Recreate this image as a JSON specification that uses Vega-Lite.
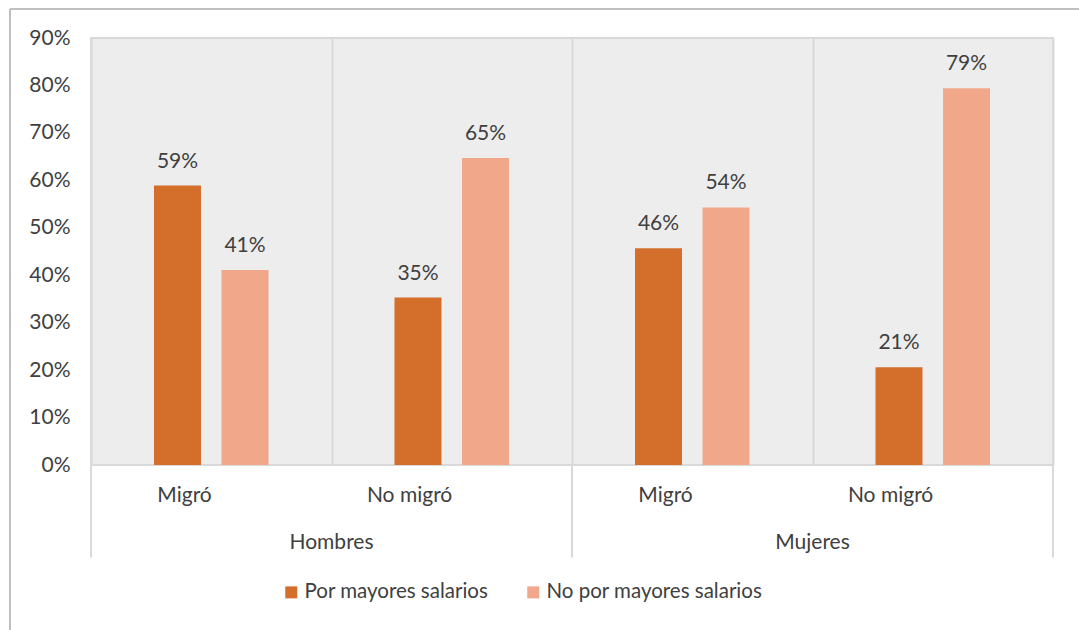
{
  "$schema": "https://vega.github.io/schema/vega-lite/v6.json",
  "width": 962,
  "height": 427,
  "autosize": {"type": "none"},
  "padding": {"left": 91, "top": 38, "right": 26, "bottom": 165},
  "background": "white",
  "config": {
    "font": "Lato",
    "view": {"fill": "#ededed", "stroke": "#d9d9d9", "strokeWidth": 2},
    "axis": {
      "labelFont": "Lato",
      "labelColor": "#404040",
      "labelFontSize": 21,
      "domain": false,
      "ticks": false,
      "gridColor": "#d9d9d9",
      "gridWidth": 2
    },
    "legend": {
      "labelFont": "Lato",
      "labelFontSize": 20.5,
      "labelColor": "#404040",
      "labelLimit": 0
    }
  },
  "datasets": {
    "main": [
      {"cat": "Hombres|Migró", "serie": "Por mayores salarios", "value": 0.589},
      {"cat": "Hombres|Migró", "serie": "No por mayores salarios", "value": 0.411},
      {"cat": "Hombres|No migró", "serie": "Por mayores salarios", "value": 0.353},
      {"cat": "Hombres|No migró", "serie": "No por mayores salarios", "value": 0.647},
      {"cat": "Mujeres|Migró", "serie": "Por mayores salarios", "value": 0.457},
      {"cat": "Mujeres|Migró", "serie": "No por mayores salarios", "value": 0.543},
      {"cat": "Mujeres|No migró", "serie": "Por mayores salarios", "value": 0.206},
      {"cat": "Mujeres|No migró", "serie": "No por mayores salarios", "value": 0.794}
    ],
    "groups": [
      {"cat": "Hombres|No migró", "group": "Hombres"},
      {"cat": "Mujeres|No migró", "group": "Mujeres"}
    ],
    "dividersStart": [
      {"cat": "Hombres|Migró"},
      {"cat": "Mujeres|Migró"}
    ],
    "dividersEnd": [
      {"cat": "Mujeres|No migró"}
    ],
    "frame": [{"cat": "Hombres|Migró", "cat2": "Mujeres|No migró"}]
  },
  "layer": [
    {
      "data": {"name": "frame"},
      "mark": {"type": "rule", "stroke": "#bfbfbf", "strokeWidth": 2, "xOffset": -81, "yOffset": -29},
      "encoding": {
        "x": {"field": "cat", "type": "nominal", "bandPosition": 0},
        "y": {"datum": 0.9, "type": "quantitative"},
        "y2": {"datum": -0.6}
      }
    },
    {
      "data": {"name": "frame"},
      "mark": {"type": "rule", "stroke": "#bfbfbf", "strokeWidth": 2, "xOffset": -81, "x2Offset": 500, "yOffset": -29},
      "encoding": {
        "x": {"field": "cat", "type": "nominal", "bandPosition": 0},
        "x2": {"field": "cat2"},
        "y": {"datum": 0.9, "type": "quantitative"}
      }
    },
    {
      "data": {"name": "dividersStart"},
      "mark": {"type": "rule", "stroke": "#d9d9d9", "strokeWidth": 2},
      "encoding": {
        "x": {"field": "cat", "type": "nominal", "bandPosition": 0},
        "y": {"datum": 0, "type": "quantitative"},
        "y2": {"datum": -0.195}
      }
    },
    {
      "data": {"name": "dividersEnd"},
      "mark": {"type": "rule", "stroke": "#d9d9d9", "strokeWidth": 2},
      "encoding": {
        "x": {"field": "cat", "type": "nominal", "bandPosition": 1},
        "y": {"datum": 0, "type": "quantitative"},
        "y2": {"datum": -0.195}
      }
    },
    {
      "data": {"name": "main"},
      "mark": {"type": "bar"},
      "encoding": {
        "x": {
          "field": "cat",
          "type": "nominal",
          "scale": {"domain": ["Hombres|Migró", "Hombres|No migró", "Mujeres|Migró", "Mujeres|No migró"], "paddingInner": 0, "paddingOuter": 0},
          "axis": {"title": null, "labelExpr": "split(datum.label, '|')[1]", "labelAngle": 0, "tickBand": "extent", "grid": true, "labelPadding": 30}
        },
        "xOffset": {
          "field": "serie",
          "type": "nominal",
          "scale": {"domain": ["Por mayores salarios", "No por mayores salarios"], "paddingInner": 0.304, "paddingOuter": 0.933}
        },
        "y": {
          "field": "value",
          "type": "quantitative",
          "scale": {"domain": [0, 0.9], "nice": false},
          "axis": {"title": null, "format": ".0%", "values": [0, 0.1, 0.2, 0.3, 0.4, 0.5, 0.6, 0.7, 0.8, 0.9], "labelPadding": 21}
        },
        "color": {
          "field": "serie",
          "type": "nominal",
          "scale": {"domain": ["Por mayores salarios", "No por mayores salarios"], "range": ["#d36e2b", "#f1a78a"]},
          "legend": {"title": null, "orient": "none", "legendX": 190, "legendY": 544, "direction": "horizontal", "symbolType": "square", "symbolSize": 144, "symbolStrokeWidth": 0, "labelOffset": 3, "columnPadding": 34}
        }
      }
    },
    {
      "data": {"name": "main"},
      "mark": {"type": "text", "fontSize": 21, "color": "#404040", "baseline": "middle", "dy": -24},
      "encoding": {
        "x": {"field": "cat", "type": "nominal"},
        "xOffset": {"field": "serie", "type": "nominal"},
        "y": {"field": "value", "type": "quantitative"},
        "text": {"field": "value", "type": "quantitative", "format": ".0%"}
      }
    },
    {
      "data": {"name": "groups"},
      "mark": {"type": "text", "fontSize": 21, "color": "#404040", "baseline": "middle", "dy": 78},
      "encoding": {
        "x": {"field": "cat", "type": "nominal", "bandPosition": 0},
        "y": {"datum": 0, "type": "quantitative"},
        "text": {"field": "group"}
      }
    }
  ]
}
